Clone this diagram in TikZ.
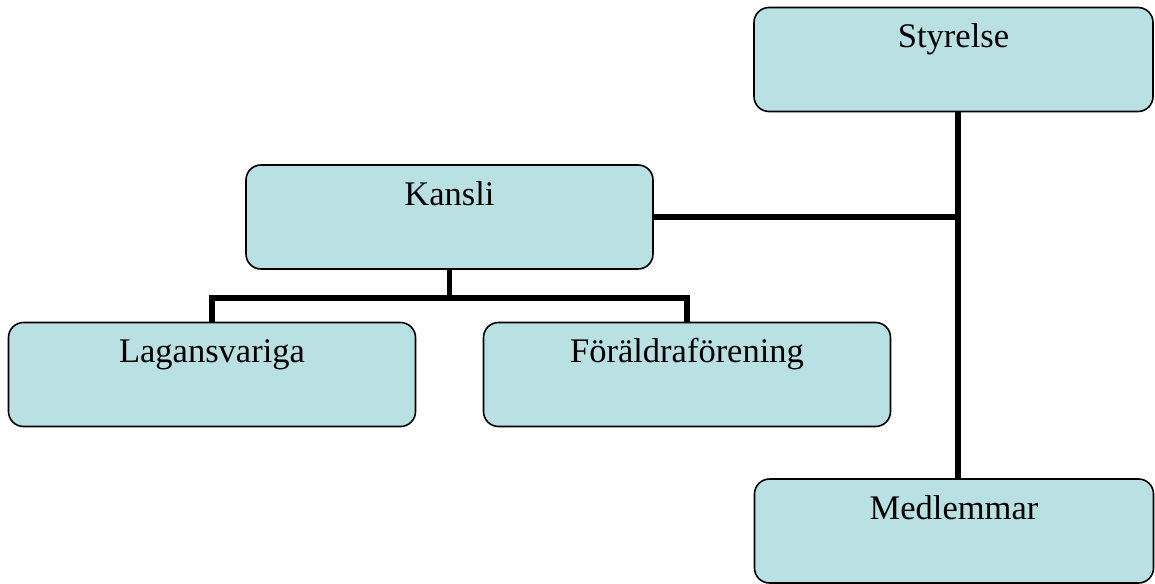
\documentclass[tikz,border=0pt]{standalone}
\usepackage{fontspec}
\setmainfont{Liberation Serif}
\usetikzlibrary{calc}
\definecolor{boxblue}{RGB}{185,224,227}
\begin{document}
\begin{tikzpicture}[x=1pt,y=-1pt,
		unitbox/.style={draw=black,line width=1.6pt,fill=boxblue,rounded corners=15pt,
			minimum width=407pt,inner sep=0pt,text height=40pt,text depth=64pt,
			font=\fontsize{34.5}{41}\selectfont},
		conn/.style={line width=5.5pt}]
			\useasboundingbox (0,0) rectangle (1155,583);
			\node [unitbox,minimum width=399pt] (styrelse) at (953.5,59.5) {Styrelse};
			\node [unitbox] (kansli) at (449.5,217) {Kansli};
			\node [unitbox] (lag) at (212,374.5) {Lagansvariga};
			\node [unitbox] (foralder) at (687,374.5) {Föräldraförening};
			\node [unitbox,minimum width=399pt] (medlemmar) at (954,531) {Medlemmar};
			\coordinate (bus) at ($(kansli.south)+(0,28)$);
			\draw [conn] ([xshift=4.5pt]styrelse.south) -- ([xshift=4pt]medlemmar.north);
			\draw [conn] (kansli.east) -- (kansli.east -| {$(styrelse.south)+(4.5,0)$});
			\draw [conn] (kansli.south) -- (bus);
			\draw [conn] (lag.north) |- (bus) -| (foralder.north);
		\end{tikzpicture}
\end{document}
